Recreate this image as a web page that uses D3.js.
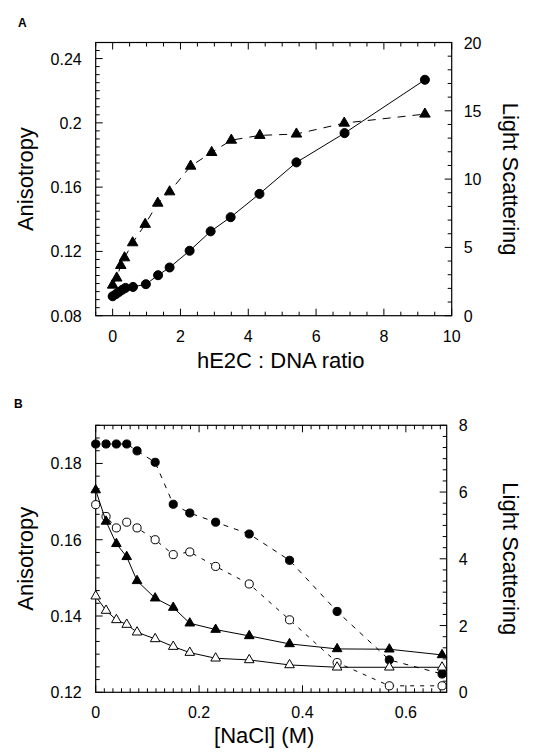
<!DOCTYPE html>
<html><head><meta charset="utf-8">
<script src="https://cdn.jsdelivr.net/npm/d3@7"></script>
<style>body{margin:0;background:#fff}svg{display:block}text{font-family:"Liberation Sans",Arial,sans-serif;fill:#000}</style>
</head><body>
<script>
// ---------- Panel A data ----------
const aCircleX = [0, 0.1, 0.19, 0.29, 0.38, 0.6, 0.98, 1.34, 1.68, 2.27, 2.89, 3.48, 4.33, 5.42, 6.84, 9.21];
const aCircleY = [0.0921, 0.0935, 0.0948, 0.0962, 0.0973, 0.0979, 0.0996, 0.1052, 0.1100, 0.1204, 0.1325, 0.1413, 0.1558, 0.1754, 0.1936, 0.2268];
const aTriX = [0, 0.12, 0.24, 0.35, 0.59, 0.96, 1.33, 1.68, 2.3, 2.92, 3.5, 4.34, 5.42, 6.83, 9.21];
const aTriY = [2.24, 2.76, 3.68, 4.24, 5.34, 6.69, 8.24, 9.07, 10.95, 11.95, 12.85, 13.2, 13.3, 14.1, 14.76];
const aXTicks = [0, 2, 4, 6, 8, 10];
const aLeftTicks = [0.08, 0.12, 0.16, 0.2, 0.24];
const aRightTicks = [0, 5, 10, 15, 20];

// ---------- Panel B data ----------
const bX = [0, 0.02, 0.04, 0.06, 0.08, 0.115, 0.15, 0.182, 0.232, 0.297, 0.375, 0.467, 0.568, 0.67];
const bFilledCircle = [0.1851, 0.1851, 0.1851, 0.1851, 0.1833, 0.1803, 0.1693, 0.1670, 0.1646, 0.1615, 0.1546, 0.1412, 0.1285, 0.1248];
const bOpenCircle = [0.1692, 0.1661, 0.1631, 0.1646, 0.1631, 0.1600, 0.1561, 0.1568, 0.1530, 0.1484, 0.1390, 0.1278, 0.1217, 0.1217];
const bFilledTri = [6.06, 5.12, 4.45, 4.06, 3.34, 2.82, 2.54, 2.07, 1.88, 1.69, 1.45, 1.30, 1.29, 1.12];
const bOpenTri = [2.88, 2.45, 2.17, 2.03, 1.80, 1.60, 1.37, 1.19, 1.02, 0.97, 0.82, 0.75, 0.75, 0.75];
const bXTicks = [0, 0.2, 0.4, 0.6];
const bLeftTicks = [0.12, 0.14, 0.16, 0.18];
const bRightTicks = [0, 2, 4, 6, 8];

const W = 535, H = 753;
const svg = d3.select("body").append("svg").attr("width", W).attr("height", H);

function fmt(v){ return String(+v.toFixed(3)); }

function panel(cfg){
  const g = svg.append("g");
  const x = d3.scaleLinear().domain(cfg.xDom).range([cfg.x0, cfg.x1]);
  const yl = d3.scaleLinear().domain(cfg.ylDom).range([cfg.y1, cfg.y0]);
  const yr = d3.scaleLinear().domain(cfg.yrDom).range([cfg.y1, cfg.y0]);
  const mk = (minorStep, majorVals, dom) => {
    const arr = [];
    const start = Math.ceil(dom[0]/minorStep - 1e-6);
    for (let k = start; k*minorStep <= dom[1]+1e-9; k++) {
      const v = k*minorStep;
      const major = majorVals.some(m => Math.abs(m - v) < minorStep*0.01);
      arr.push({v, major});
    }
    return arr;
  };
  mk(cfg.xMinor, cfg.xTicks, cfg.xDom).forEach(t => {
    const px = x(t.v), L = t.major ? 7 : 4;
    g.append("line").attr("x1",px).attr("x2",px).attr("y1",cfg.y1).attr("y2",cfg.y1-L).attr("stroke","#000");
    g.append("line").attr("x1",px).attr("x2",px).attr("y1",cfg.y0).attr("y2",cfg.y0+L).attr("stroke","#000");
  });
  mk(cfg.ylMinor, cfg.ylTicks, cfg.ylDom).forEach(t => {
    const py = yl(t.v), L = t.major ? 7 : 4;
    g.append("line").attr("x1",cfg.x0).attr("x2",cfg.x0+L).attr("y1",py).attr("y2",py).attr("stroke","#000");
  });
  mk(cfg.yrMinor, cfg.yrTicks, cfg.yrDom).forEach(t => {
    const py = yr(t.v), L = t.major ? 7 : 4;
    g.append("line").attr("x1",cfg.x1).attr("x2",cfg.x1-L).attr("y1",py).attr("y2",py).attr("stroke","#000");
  });
  g.append("rect").attr("x",cfg.x0).attr("y",cfg.y0).attr("width",cfg.x1-cfg.x0).attr("height",cfg.y1-cfg.y0)
    .attr("fill","none").attr("stroke","#000").attr("stroke-width",1.2);
  cfg.xTicks.forEach(v => g.append("text").attr("x",x(v)).attr("y",cfg.y1+26).attr("text-anchor","middle")
    .attr("font-size",16).text(fmt(v)));
  cfg.ylTicks.forEach(v => g.append("text").attr("x",cfg.x0-14).attr("y",yl(v)+6).attr("text-anchor","end")
    .attr("font-size",16).text(fmt(v)));
  cfg.yrTicks.forEach(v => g.append("text").attr("x",cfg.x1+12).attr("y",yr(v)+6).attr("text-anchor","start")
    .attr("font-size",16).text(fmt(v)));
  g.append("text").attr("x",(cfg.x0+cfg.x1)/2 + cfg.xTitleDx).attr("y",cfg.xTitleY).attr("text-anchor","middle")
    .attr("font-size",22).text(cfg.xTitle);
  const cy = (cfg.y0+cfg.y1)/2;
  g.append("text").attr("transform",`translate(33,${cy}) rotate(-90)`).attr("text-anchor","middle")
    .attr("font-size",22).text("Anisotropy");
  g.append("text").attr("transform",`translate(503,${cy}) rotate(90)`).attr("text-anchor","middle")
    .attr("font-size",22).text("Light Scattering");
  g.append("text").attr("x",cfg.lx).attr("y",cfg.ly).attr("font-size",12).attr("font-weight","bold").text(cfg.letter);
  return {g, x, yl, yr};
}

function series(p, xs, ys, yScale, opts){
  const pts = xs.map((v,i)=>[p.x(v), yScale(ys[i])]);
  p.g.append("path").attr("d", d3.line()(pts)).attr("fill","none").attr("stroke","#000")
    .attr("stroke-width",1).attr("stroke-dasharray", opts.dash || null);
  const sym = d3.symbol().type(opts.shape === "tri" ? d3.symbolTriangle : d3.symbolCircle).size(opts.size);
  pts.forEach(pt => {
    p.g.append("path").attr("d", sym()).attr("transform",`translate(${pt[0]},${pt[1]})`)
      .attr("fill", opts.open ? "#fff" : "#000").attr("stroke","#000").attr("stroke-width",1);
  });
}

const A = panel({x0:95.7, x1:451.7, y0:42.5, y1:315.7, xDom:[-0.5,10], ylDom:[0.08,0.25], yrDom:[0,20],
  xTicks:aXTicks, xMinor:0.5, ylTicks:aLeftTicks, ylMinor:0.005, yrTicks:aRightTicks, yrMinor:1,
  xTitle:"hE2C : DNA ratio", xTitleY:368, xTitleDx:7, letter:"A", lx:18, ly:27});
series(A, aTriX, aTriY, A.yr, {shape:"tri", size:48, dash:"8,7"});
series(A, aCircleX, aCircleY, A.yl, {shape:"circle", size:64});

const B = panel({x0:95.7, x1:446.7, y0:425.3, y1:692.3, xDom:[0,0.679], ylDom:[0.12,0.19], yrDom:[0,8],
  xTicks:bXTicks, xMinor:1/60, ylTicks:bLeftTicks, ylMinor:0.02/6, yrTicks:bRightTicks, yrMinor:1/3,
  xTitle:"[NaCl] (M)", xTitleY:743, xTitleDx:-7, letter:"B", lx:14, ly:408});
series(B, bX, bFilledCircle, B.yl, {shape:"circle", size:52, dash:"5,6"});
series(B, bX, bOpenCircle, B.yl, {shape:"circle", size:52, dash:"4,6", open:true});
series(B, bX, bFilledTri, B.yr, {shape:"tri", size:40});
series(B, bX, bOpenTri, B.yr, {shape:"tri", size:40, open:true});
</script>
</body></html>
